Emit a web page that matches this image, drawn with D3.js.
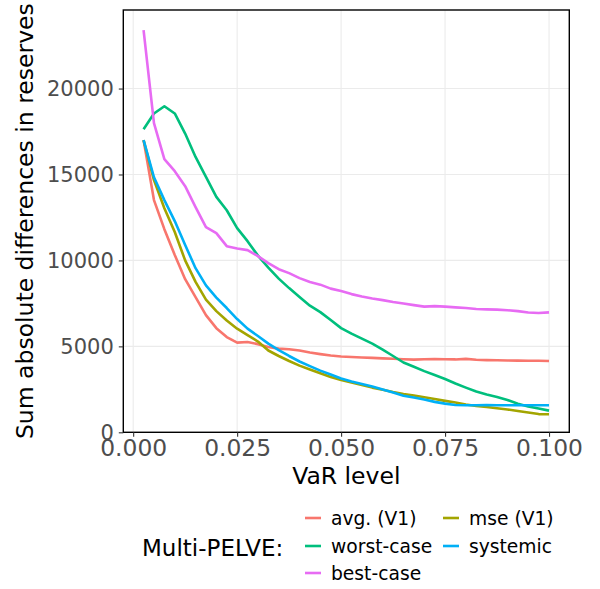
<!DOCTYPE html>
<html>
<head>
<meta charset="utf-8">
<script src="https://cdn.jsdelivr.net/npm/d3@7"></script>
<style>
  body { margin: 0; background: #fff; }
  svg text { font-family: "DejaVu Sans", sans-serif; }
</style>
</head>
<body>
<div id="chart"></div>
<script>
// VaR levels 0.0025 .. 0.1 in steps of 0.0025
const varLevels = [0.0025, 0.005, 0.0075, 0.01, 0.0125, 0.015, 0.0175, 0.02, 0.0225, 0.025,
  0.0275, 0.03, 0.0325, 0.035, 0.0375, 0.04, 0.0425, 0.045, 0.0475, 0.05,
  0.0525, 0.055, 0.0575, 0.06, 0.0625, 0.065, 0.0675, 0.07, 0.0725, 0.075,
  0.0775, 0.08, 0.0825, 0.085, 0.0875, 0.09, 0.0925, 0.095, 0.0975, 0.1];

const avgV1 = [17000, 13510, 11820, 10310, 8910, 7870, 6820, 6060, 5540, 5220,
  5250, 5130, 4960, 4870, 4830, 4760, 4640, 4550, 4470, 4410,
  4380, 4350, 4330, 4300, 4280, 4250, 4230, 4250, 4260, 4250,
  4240, 4270, 4220, 4200, 4190, 4180, 4170, 4160, 4160, 4150];

const mseV1 = [17000, 14670, 13040, 11650, 10000, 8750, 7720, 7050, 6500, 6030,
  5660, 5280, 4760, 4440, 4150, 3880, 3650, 3430, 3220, 3040,
  2900, 2750, 2600, 2470, 2340, 2230, 2140, 2040, 1940, 1830,
  1730, 1620, 1530, 1470, 1400, 1330, 1240, 1150, 1060, 1050];

const worstCase = [17630, 18550, 18970, 18550, 17380, 16020, 14860, 13700, 12920, 11880,
  11120, 10280, 9580, 8940, 8390, 7870, 7370, 6990, 6530, 6060,
  5740, 5450, 5160, 4810, 4440, 4060, 3810, 3560, 3330, 3100,
  2840, 2600, 2370, 2200, 2060, 1880, 1660, 1500, 1380, 1260];

const systemic = [17000, 14840, 13510, 12290, 10900, 9550, 8550, 7840, 7230, 6590,
  6030, 5600, 5160, 4780, 4440, 4120, 3850, 3590, 3360, 3130,
  2950, 2810, 2660, 2490, 2310, 2130, 2020, 1910, 1770, 1670,
  1590, 1570, 1570, 1580, 1570, 1570, 1570, 1570, 1570, 1570];

const bestCase = [23400, 17990, 15890, 15190, 14320, 13100, 11940, 11590, 10830, 10690,
  10600, 10250, 9840, 9490, 9260, 8970, 8740, 8590, 8360, 8220,
  8040, 7900, 7780, 7690, 7580, 7490, 7400, 7310, 7340, 7310,
  7270, 7230, 7170, 7150, 7140, 7100, 7050, 6970, 6940, 6980];

const seriesNames = ["avg. (V1)", "mse (V1)", "worst-case", "systemic", "best-case"];
const seriesValues = [avgV1, mseV1, worstCase, systemic, bestCase];
const seriesColours = ["#F8766D", "#A3A500", "#00BF7D", "#00B0F6", "#E76BF3"];

const xTicks = [0, 0.025, 0.05, 0.075, 0.1];
const yTicks = [0, 5000, 10000, 15000, 20000];

const width = 600, height = 589;
const panel = {left: 123.3, right: 569.3, top: 10, bottom: 432.3};

const svg = d3.select("#chart").append("svg")
  .attr("width", width)
  .attr("height", height);

// ggplot style expansion: 5% each side on x, only top on y
const xMin = d3.min(varLevels), xMax = d3.max(varLevels);
const xPad = (xMax - xMin) * 0.05;
const x = d3.scaleLinear()
  .domain([xMin - xPad, xMax + xPad])
  .range([panel.left, panel.right]);

const yMax = d3.max(seriesValues.flat());
const y = d3.scaleLinear()
  .domain([0, yMax * 1.05])
  .range([panel.bottom, panel.top]);

// grid
const grid = svg.append("g");
grid.selectAll("line.vx")
  .data(xTicks)
  .join("line")
    .attr("x1", d => x(d)).attr("x2", d => x(d))
    .attr("y1", panel.top).attr("y2", panel.bottom)
    .attr("stroke", "#EBEBEB").attr("stroke-width", 1.1);
grid.selectAll("line.hy")
  .data(yTicks)
  .join("line")
    .attr("x1", panel.left).attr("x2", panel.right)
    .attr("y1", d => y(d)).attr("y2", d => y(d))
    .attr("stroke", "#EBEBEB").attr("stroke-width", 1.1);

// lines
const line = d3.line()
  .x((d, i) => x(varLevels[i]))
  .y(d => y(d));

svg.append("g")
  .selectAll("path")
  .data(seriesValues)
  .join("path")
    .attr("fill", "none")
    .attr("stroke", (d, i) => seriesColours[i])
    .attr("stroke-width", 2.6)
    .attr("stroke-linejoin", "round")
    .attr("d", line);

// panel border
svg.append("rect")
  .attr("x", panel.left).attr("y", panel.top)
  .attr("width", panel.right - panel.left)
  .attr("height", panel.bottom - panel.top)
  .attr("fill", "none")
  .attr("stroke", "#000")
  .attr("stroke-width", 1.4);

// axes
const xAxis = svg.append("g")
  .attr("transform", `translate(0,${panel.bottom})`)
  .call(d3.axisBottom(x).tickValues(xTicks).tickFormat(d3.format(".3f")).tickSize(4.5).tickPadding(3));
const yAxis = svg.append("g")
  .attr("transform", `translate(${panel.left},0)`)
  .call(d3.axisLeft(y).tickValues(yTicks).tickFormat(d3.format("d")).tickSize(4.5).tickPadding(5));

[xAxis, yAxis].forEach(a => {
  a.select(".domain").remove();
  a.selectAll(".tick line").attr("stroke", "#333").attr("stroke-width", 1.1);
  a.selectAll(".tick text").attr("fill", "#4D4D4D").attr("font-family", "DejaVu Sans");
});
xAxis.selectAll(".tick text").attr("font-size", 23.4);
yAxis.selectAll(".tick text").attr("font-size", 21);

// axis titles
svg.append("text")
  .attr("x", (panel.left + panel.right) / 2)
  .attr("y", 484)
  .attr("text-anchor", "middle")
  .attr("font-size", 23.5)
  .text("VaR level");

svg.append("text")
  .attr("transform", `translate(33,${(panel.top + panel.bottom) / 2}) rotate(-90)`)
  .attr("text-anchor", "middle")
  .attr("font-size", 23.5)
  .text("Sum absolute differences in reserves");

// legend (3 rows, filled by row)
const legend = svg.append("g");
legend.append("text")
  .attr("x", 142).attr("y", 556)
  .attr("font-size", 23)
  .text("Multi-PELVE:");

const colX = [305, 443];
const rowY = [518, 546, 573];
const items = legend.selectAll("g.item")
  .data(seriesNames)
  .join("g")
    .attr("transform", (d, i) => `translate(${colX[i % 2]},${rowY[Math.floor(i / 2)]})`);
items.append("line")
  .attr("x1", 0).attr("x2", 16)
  .attr("stroke", (d, i) => seriesColours[i])
  .attr("stroke-width", 2.6);
items.append("text")
  .attr("x", 26).attr("dy", "0.35em")
  .attr("font-size", 18.7)
  .text(d => d);
</script>
</body>
</html>
